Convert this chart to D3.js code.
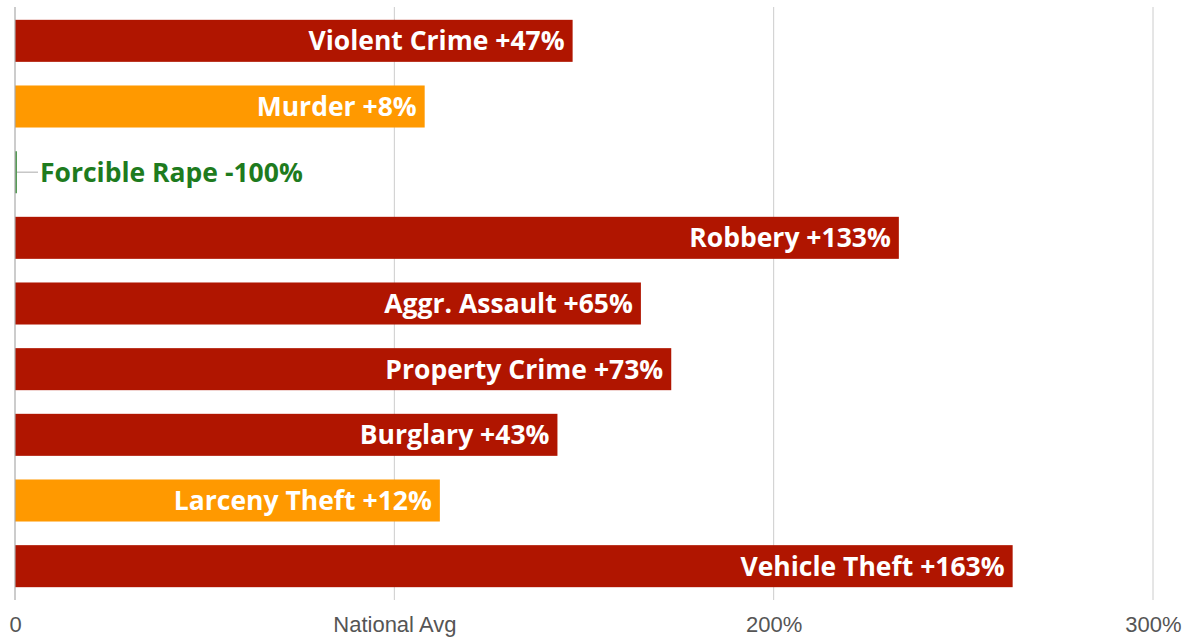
<!DOCTYPE html>
<html>
<head>
<meta charset="utf-8">
<script src="https://cdnjs.cloudflare.com/ajax/libs/d3/7.8.5/d3.min.js"></script>
<style>
  html, body { margin: 0; padding: 0; background: #fff; }
  svg { display: block; }
</style>
</head>
<body>
<svg id="crime-chart"></svg>
<script>
// DATA
const categories = ['Violent Crime', 'Murder', 'Forcible Rape', 'Robbery', 'Aggr. Assault',
                    'Property Crime', 'Burglary', 'Larceny Theft', 'Vehicle Theft']
const pctVsNational = [47, 8, -100, 133, 65, 73, 43, 12, 163]
const tickValues = [0, 100, 200, 300]
const tickLabels = ['0', 'National Avg', '200%', '300%']

const width = 1190
const height = 639
const margins = {top: 8, bottom: 40, left: 15, right: 37}

let rows = categories.map((label, i) => ({
    label: label,
    pct: pctVsNational[i],
    value: 100 + pctVsNational[i]
}))

let svg = d3.select('#crime-chart')
    .attr('width', width)
    .attr('height', height)

// SCALES
let x = d3.scaleLinear()
    .domain([0, 300])
    .range([margins.left, width - margins.right])
let y = d3.scaleBand()
    .domain(categories)
    .range([margins.top, height - margins.bottom])
    .paddingInner(0.36)
    .paddingOuter(0.18)

// COLOURS: green below avg, orange slightly above, red well above
let colour = d3.scaleThreshold()
    .domain([0, 25])
    .range(['#1e7b1e', '#ff9900', '#b01500'])

// GRIDLINES
svg.append('g')
    .selectAll('line')
    .data(tickValues.slice(1))
    .join('line')
        .attr('x1', d => x(d))
        .attr('x2', d => x(d))
        .attr('y1', margins.top - 1)
        .attr('y2', height - margins.bottom + 1)
        .attr('stroke', '#cccccc')
        .attr('stroke-width', 1)

// BARS
let bars = svg.append('g')
bars.selectAll('rect')
    .data(rows)
    .join('rect')
        .attr('x', x(0))
        .attr('y', d => y(d.label))
        .attr('width', d => x(d.value) - x(0))
        .attr('height', y.bandwidth())
        .attr('fill', d => colour(d.pct))

// ZERO-VALUE MARKS (bar with no length)
let zeroRows = rows.filter(d => d.value <= 0)
bars.selectAll('.zero-bar')
    .data(zeroRows)
    .join('line')
        .classed('zero-bar', true)
        .attr('x1', x(0) + 1)
        .attr('x2', x(0) + 1)
        .attr('y1', d => y(d.label))
        .attr('y2', d => y(d.label) + y.bandwidth())
        .attr('stroke', d => colour(d.pct))
        .attr('stroke-width', 1.5)
bars.selectAll('.zero-leader')
    .data(zeroRows)
    .join('line')
        .classed('zero-leader', true)
        .attr('x1', x(0) + 2)
        .attr('x2', x(0) + 23)
        .attr('y1', d => y(d.label) + y.bandwidth() / 2)
        .attr('y2', d => y(d.label) + y.bandwidth() / 2)
        .attr('stroke', '#aaaaaa')
        .attr('stroke-width', 1)

// LEFT AXIS LINE
svg.append('line')
    .attr('x1', x(0))
    .attr('x2', x(0))
    .attr('y1', margins.top - 1)
    .attr('y2', height - margins.bottom + 1)
    .attr('stroke', '#aaaaaa')
    .attr('stroke-width', 1.2)

// BAR LABELS
svg.append('g')
    .selectAll('text')
    .data(rows)
    .join('text')
        .attr('x', d => d.value > 0 ? x(d.value) - 8 : x(0) + 25)
        .attr('y', d => y(d.label) + y.bandwidth() / 2)
        .attr('dy', '0.36em')
        .attr('text-anchor', d => d.value > 0 ? 'end' : 'start')
        .attr('fill', d => d.value > 0 ? '#ffffff' : colour(d.pct))
        .attr('font-family', '"Open Sans", sans-serif')
        .attr('font-weight', 'bold')
        .attr('font-size', 26.5)
        .text(d => d.label + ' ' + (d.pct >= 0 ? '+' : '') + d.pct + '%')

// X AXIS LABELS
let xAxis = svg.append('g')
    .attr('transform', `translate(0, ${height - margins.bottom})`)
    .call(d3.axisBottom(x).tickValues(tickValues).tickFormat((d, i) => tickLabels[i]).tickSize(0).tickPadding(17))
xAxis.select('.domain').remove()
xAxis.selectAll('text')
    .attr('fill', '#555555')
    .attr('font-family', '"Liberation Sans", Arial, sans-serif')
    .attr('font-size', 22)
</script>
</body>
</html>
